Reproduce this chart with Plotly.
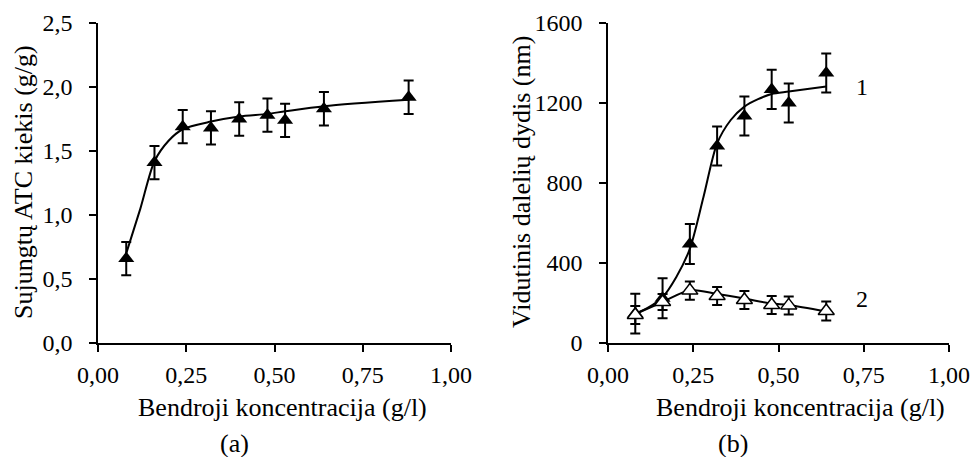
import plotly.graph_objects as go

# ---------------- data ----------------
# Panel (a)
conc_a = [0.08, 0.16, 0.24, 0.32, 0.40, 0.48, 0.53, 0.64, 0.88]
atc_a = [0.66, 1.41, 1.69, 1.68, 1.75, 1.78, 1.74, 1.83, 1.92]
atc_err = [0.13, 0.13, 0.13, 0.13, 0.13, 0.13, 0.13, 0.13, 0.13]
fit_x_a = [0.08, 0.12, 0.16, 0.20, 0.24, 0.32, 0.40, 0.48, 0.53, 0.64, 0.88]
fit_y_a = [0.70, 1.05, 1.42, 1.58, 1.67, 1.73, 1.77, 1.79, 1.81, 1.85, 1.90]

# Panel (b)
conc_b = [0.08, 0.16, 0.24, 0.32, 0.40, 0.48, 0.53, 0.64]
size_1 = [147, 224, 495, 985, 1135, 1268, 1200, 1350]
size_1_err = [99, 100, 100, 98, 98, 98, 98, 98]
size_2 = [140, 205, 262, 235, 215, 190, 188, 160]
size_2_err = [45, 40, 46, 45, 45, 45, 45, 47]
fit_x_1 = [0.08, 0.12, 0.16, 0.20, 0.24, 0.28, 0.32, 0.36, 0.40, 0.44, 0.48, 0.53, 0.64]
fit_y_1 = [145, 179, 229, 329, 471, 730, 998, 1115, 1182, 1219, 1245, 1257, 1282]
fit_x_2 = [0.08, 0.16, 0.24, 0.32, 0.40, 0.48, 0.53, 0.64]
fit_y_2 = [145, 205, 264, 245, 222, 197, 190, 157]

x_ticks = [0, 0.25, 0.5, 0.75, 1.0]
x_ticktext = ["0,00", "0,25", "0,50", "0,75", "1,00"]
ya_ticks = [0, 0.5, 1.0, 1.5, 2.0, 2.5]
ya_ticktext = ["0,0", "0,5", "1,0", "1,5", "2,0", "2,5"]
yb_ticks = [0, 400, 800, 1200, 1600]
yb_ticktext = ["0", "400", "800", "1200", "1600"]

x_title = "Bendroji koncentracija (g/l)"
ya_title = "Sujungtų ATC kiekis (g/g)"
yb_title = "Vidutinis dalelių dydis (nm)"

FONT = "Liberation Serif, Times New Roman, serif"
FS_TICK = 24
FS_TITLE = 26
W, H = 976, 457

fig = go.Figure()

line_style = dict(color="black", width=2)
err_style = dict(type="data", visible=True, color="black", thickness=2, width=5)

# (a) curve + points
fig.add_trace(go.Scatter(x=fit_x_a, y=fit_y_a, mode="lines", line=dict(shape="spline", smoothing=0.8, **line_style),
                         xaxis="x", yaxis="y", hoverinfo="skip", showlegend=False))
fig.add_trace(go.Scatter(x=conc_a, y=atc_a, mode="markers",
                         marker=dict(symbol="triangle-up", size=14, color="black"),
                         error_y=dict(array=atc_err, **err_style),
                         xaxis="x", yaxis="y", showlegend=False))

# (b) curves
fig.add_trace(go.Scatter(x=fit_x_1, y=fit_y_1, mode="lines", line=dict(shape="spline", smoothing=0.8, **line_style),
                         xaxis="x2", yaxis="y2", hoverinfo="skip", showlegend=False))
fig.add_trace(go.Scatter(x=fit_x_2, y=fit_y_2, mode="lines", line=dict(shape="spline", smoothing=0.8, **line_style),
                         xaxis="x2", yaxis="y2", hoverinfo="skip", showlegend=False))
# (b) points
fig.add_trace(go.Scatter(x=conc_b, y=size_1, mode="markers",
                         marker=dict(symbol="triangle-up", size=14, color="black"),
                         error_y=dict(array=size_1_err, **err_style),
                         xaxis="x2", yaxis="y2", showlegend=False))
fig.add_trace(go.Scatter(x=conc_b, y=size_2, mode="markers",
                         marker=dict(symbol="triangle-up", size=14, color="white",
                                     line=dict(color="black", width=1.5)),
                         error_y=dict(array=size_2_err, **err_style),
                         xaxis="x2", yaxis="y2", showlegend=False))

ydom = [1 - 343 / H, 1 - 23 / H]
axis_common = dict(showline=True, linecolor="black", linewidth=1.5, ticks="outside", ticklen=7,
                   tickwidth=1.5, tickcolor="black", showgrid=False, zeroline=False, automargin=False,
                   tickfont=dict(family=FONT, size=FS_TICK, color="black"))

fig.update_layout(
    width=W, height=H,
    margin=dict(l=0, r=0, t=0, b=0, autoexpand=False),
    paper_bgcolor="white", plot_bgcolor="white",
    font=dict(family=FONT, size=FS_TICK, color="black"),
    xaxis=dict(domain=[98 / W, 451 / W], range=[0, 1], tickvals=x_ticks, ticktext=x_ticktext,
               anchor="y", ticklabelstandoff=2, **axis_common),
    yaxis=dict(domain=ydom, range=[0, 2.5], tickvals=ya_ticks, ticktext=ya_ticktext,
               anchor="x", ticklabelstandoff=12, **axis_common),
    xaxis2=dict(domain=[608 / W, 949 / W], range=[0, 1], tickvals=x_ticks, ticktext=x_ticktext,
                anchor="y2", ticklabelstandoff=2, **axis_common),
    yaxis2=dict(domain=ydom, range=[0, 1600], tickvals=yb_ticks, ticktext=yb_ticktext,
                anchor="x2", ticklabelstandoff=12, **axis_common),
)

ann = []
def add_text(txt, xpx, ypx, size, angle=0):
    ann.append(dict(text=txt, x=xpx / W, y=1 - ypx / H, xref="paper", yref="paper",
                    xanchor="center", yanchor="middle", showarrow=False, textangle=angle,
                    font=dict(family=FONT, size=size, color="black")))

add_text(x_title, 282, 407, FS_TITLE)
add_text(x_title, 800, 407, FS_TITLE)
add_text("(a)", 234, 443, FS_TITLE)
add_text("(b)", 733, 443, FS_TITLE)
add_text(ya_title, 23, 182, FS_TITLE, -90)
add_text(yb_title, 521, 182, FS_TITLE, -90)
ann.append(dict(text="1", x=0.70, y=1280, xref="x2", yref="y2", xanchor="center", yanchor="middle",
                xshift=861.7 - (608 + 0.70 * 341), showarrow=False, font=dict(family=FONT, size=FS_TICK, color="black")))
ann.append(dict(text="2", x=0.70, y=220, xref="x2", yref="y2", xanchor="center", yanchor="middle",
                xshift=861.7 - (608 + 0.70 * 341), showarrow=False, font=dict(family=FONT, size=FS_TICK, color="black")))
fig.update_layout(annotations=ann)

fig.write_html("out.html")
